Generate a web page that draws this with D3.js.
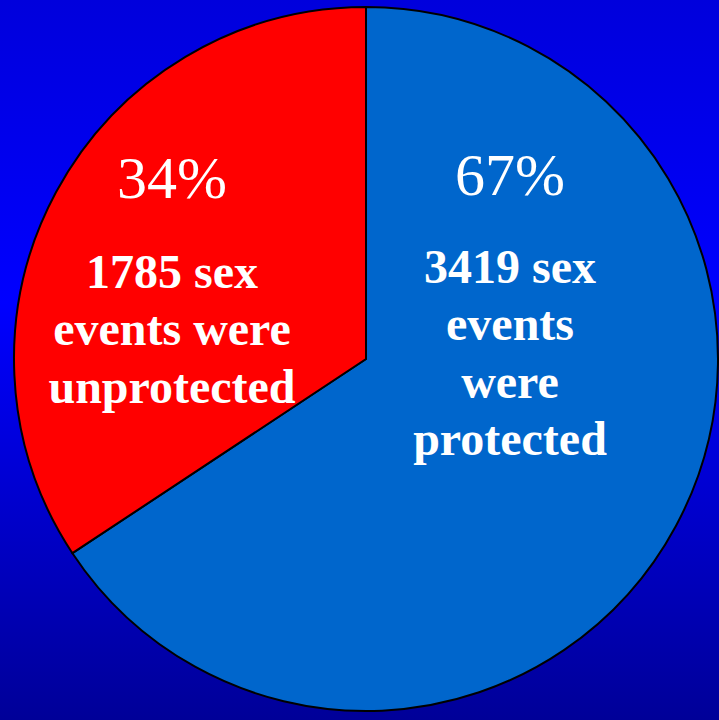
<!DOCTYPE html>
<html>
<head>
<meta charset="utf-8">
<script src="https://cdn.jsdelivr.net/npm/d3@7"></script>
<style>
  html, body { margin: 0; padding: 0; background: #0000dd; }
  svg { display: block; }
</style>
</head>
<body>
<script>
// Sex events by condom use
const categories = ["protected", "unprotected"];
const counts = [3419, 1785];
const percentLabels = ["67%", "34%"];
const descLines = [
  ["3419 sex", "events", "were", "protected"],
  ["1785 sex", "events were", "unprotected"]
];
const colors = ["#0066cc", "#ff0000"];

const W = 719, H = 720;
const cx = 366, cy = 359, R = 352;

const svg = d3.select("body").append("svg")
  .attr("width", W).attr("height", H);

// vertical background gradient
const grad = svg.append("defs").append("linearGradient")
  .attr("id", "bg").attr("x1", 0).attr("y1", 0).attr("x2", 0).attr("y2", 1);
grad.append("stop").attr("offset", "0").attr("stop-color", "#0000dc");
grad.append("stop").attr("offset", "0.42").attr("stop-color", "#0000ff");
grad.append("stop").attr("offset", "1").attr("stop-color", "#000098");
svg.append("rect").attr("width", W).attr("height", H).attr("fill", "url(#bg)");

const pie = d3.pie().sort(null).value(d => d);
const arcs = pie(counts);
const arc = d3.arc().innerRadius(0).outerRadius(R);

const g = svg.append("g").attr("transform", `translate(${cx},${cy})`);
g.selectAll("path.slice").data(arcs).join("path")
  .attr("class", "slice")
  .attr("d", arc)
  .attr("fill", (d, i) => colors[i])
  .attr("stroke", "#000")
  .attr("stroke-width", 2)
  .attr("stroke-linejoin", "round");

// label anchors for each slice (offset from pie centre)
const labelPos = [
  { x: 144, pctY: -164, descY: -76 },
  { x: -194, pctY: -161, descY: -71 }
];

const labels = g.selectAll("g.label").data(arcs).join("g").attr("class", "label");

labels.append("text")
  .attr("x", (d, i) => labelPos[i].x)
  .attr("y", (d, i) => labelPos[i].pctY)
  .attr("text-anchor", "middle")
  .attr("fill", "#fff")
  .attr("font-family", "'Liberation Serif', 'Times New Roman', serif")
  .attr("font-size", 60)
  .text((d, i) => percentLabels[i]);

labels.append("text")
  .attr("text-anchor", "middle")
  .attr("fill", "#fff")
  .attr("font-family", "'Liberation Serif', 'Times New Roman', serif")
  .attr("font-weight", "bold")
  .attr("font-size", 48)
  .selectAll("tspan")
  .data((d, i) => descLines[i].map(t => ({ t, i })))
  .join("tspan")
  .attr("x", d => labelPos[d.i].x)
  .attr("y", (d, j) => labelPos[d.i].descY + j * 57.3)
  .text(d => d.t);
</script>
</body>
</html>
